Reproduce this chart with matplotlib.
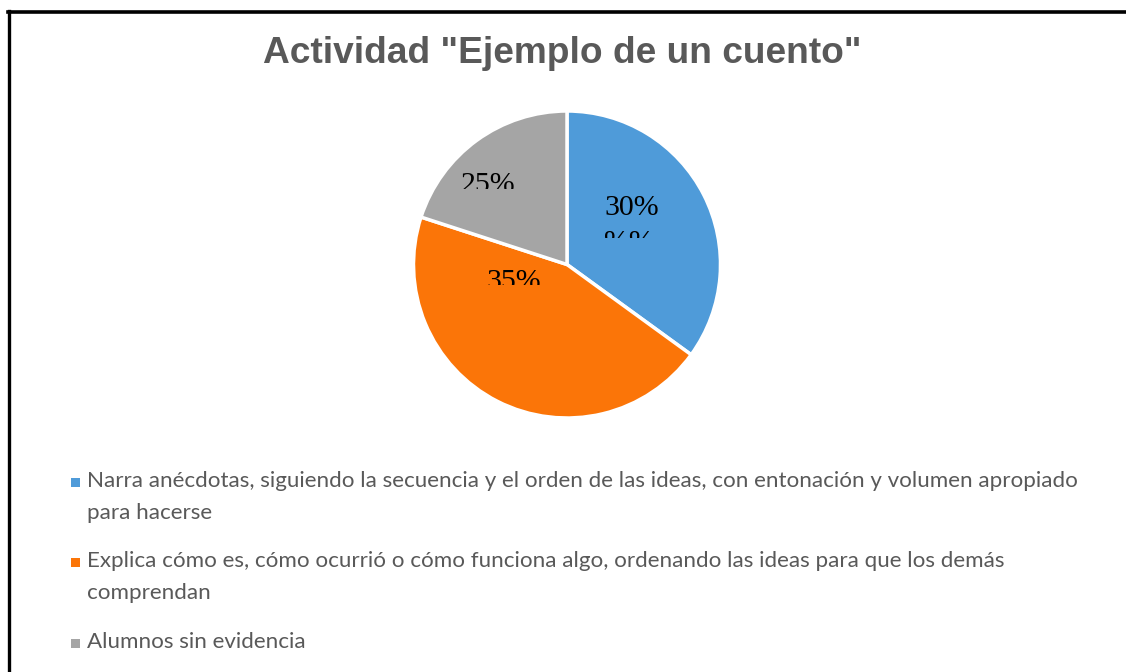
import matplotlib.pyplot as plt
from matplotlib.lines import Line2D
from matplotlib.patches import Rectangle
from matplotlib.transforms import Bbox, TransformedBbox

W, H = 1126, 672

title = 'Actividad "Ejemplo de un cuento"'
categories = [
    "Narra anécdotas, siguiendo la secuencia y el orden de las ideas, con entonación y volumen apropiado\npara hacerse",
    "Explica cómo es, cómo ocurrió o cómo funciona algo, ordenando las ideas para que los demás\ncomprendan",
    "Alumnos sin evidencia",
]
slice_sizes = [35, 45, 20]
slice_labels = ["30%", "35%", "25%"]
colors = ["#4f9bd9", "#fb7508", "#a5a5a5"]
text_gray = "#595959"


def fx(x):
    return x / W


def fy(y):
    return 1 - y / H


fig = plt.figure(figsize=(W / 100, H / 100), dpi=100)
fig.patch.set_facecolor("white")
renderer = fig.canvas.get_renderer()


def fit_width(t, target):
    # scale the font so the text spans the wanted pixel width
    w = t.get_window_extent(renderer).width
    t.set_fontsize(t.get_fontsize() * target / w)


# frame: top and left lines only
fig.add_artist(Line2D([fx(8), 1], [fy(11.5), fy(11.5)], transform=fig.transFigure,
                      color="black", lw=2.6))
fig.add_artist(Line2D([fx(8.5), fx(8.5)], [fy(11), 0], transform=fig.transFigure,
                      color="black", lw=2.4))

t = fig.text(fx(562), fy(63), title, ha="center", va="baseline",
             family="Liberation Sans", weight="bold", fontsize=24, color=text_gray)
fit_width(t, 600)

# pie
cx, cy, r = 567, 264.5, 153.5
ax = fig.add_axes([fx(cx - r), fy(cy + r), 2 * r / W, 2 * r / H])
ax.pie(slice_sizes, colors=colors, startangle=90, counterclock=False, radius=1,
       wedgeprops=dict(edgecolor="white", linewidth=2.5))
ax.set_xlim(-1, 1)
ax.set_ylim(-1, 1)
ax.set_aspect("auto")
ax.axis("off")


def clipped_label(s, x, y, clip_y0, clip_y1):
    lab = fig.text(fx(x), fy(y), s, ha="left", va="baseline",
                   family="Liberation Serif", fontsize=21.5, color="black")
    box = Bbox([[0, fy(clip_y1)], [1, fy(clip_y0)]])
    lab.set_clip_box(TransformedBbox(box, fig.transFigure))
    lab.set_clip_on(True)
    return lab


clipped_label(slice_labels[0], 604, 215, 150, 240)
clipped_label("%%", 604, 250, 150, 238)
clipped_label(slice_labels[1], 486, 289, 240, 285)
clipped_label(slice_labels[2], 461, 192, 150, 189)

# legend
rows = [482, 562, 643]
for cat, col, y in zip(categories, colors, rows):
    fig.add_artist(Rectangle((fx(70.5), fy(y + 4.5)), 9 / W, 9 / H, transform=fig.transFigure,
                             facecolor=col, edgecolor="none"))
    fig.text(fx(87), fy(y - 11), cat, ha="left", va="top", family="Lato",
             fontsize=14.5, color=text_gray, linespacing=1.75)

# fit legend font using the longest line
probe = fig.text(0, 0, categories[0].split("\n")[0], family="Lato", fontsize=14.5)
w = probe.get_window_extent(renderer).width
probe.remove()
scale = (1071 - 87) / w
for txt in fig.texts:
    if txt.get_fontfamily()[0] == "Lato":
        txt.set_fontsize(14.5 * scale)

fig.savefig("out.png", dpi=100)
